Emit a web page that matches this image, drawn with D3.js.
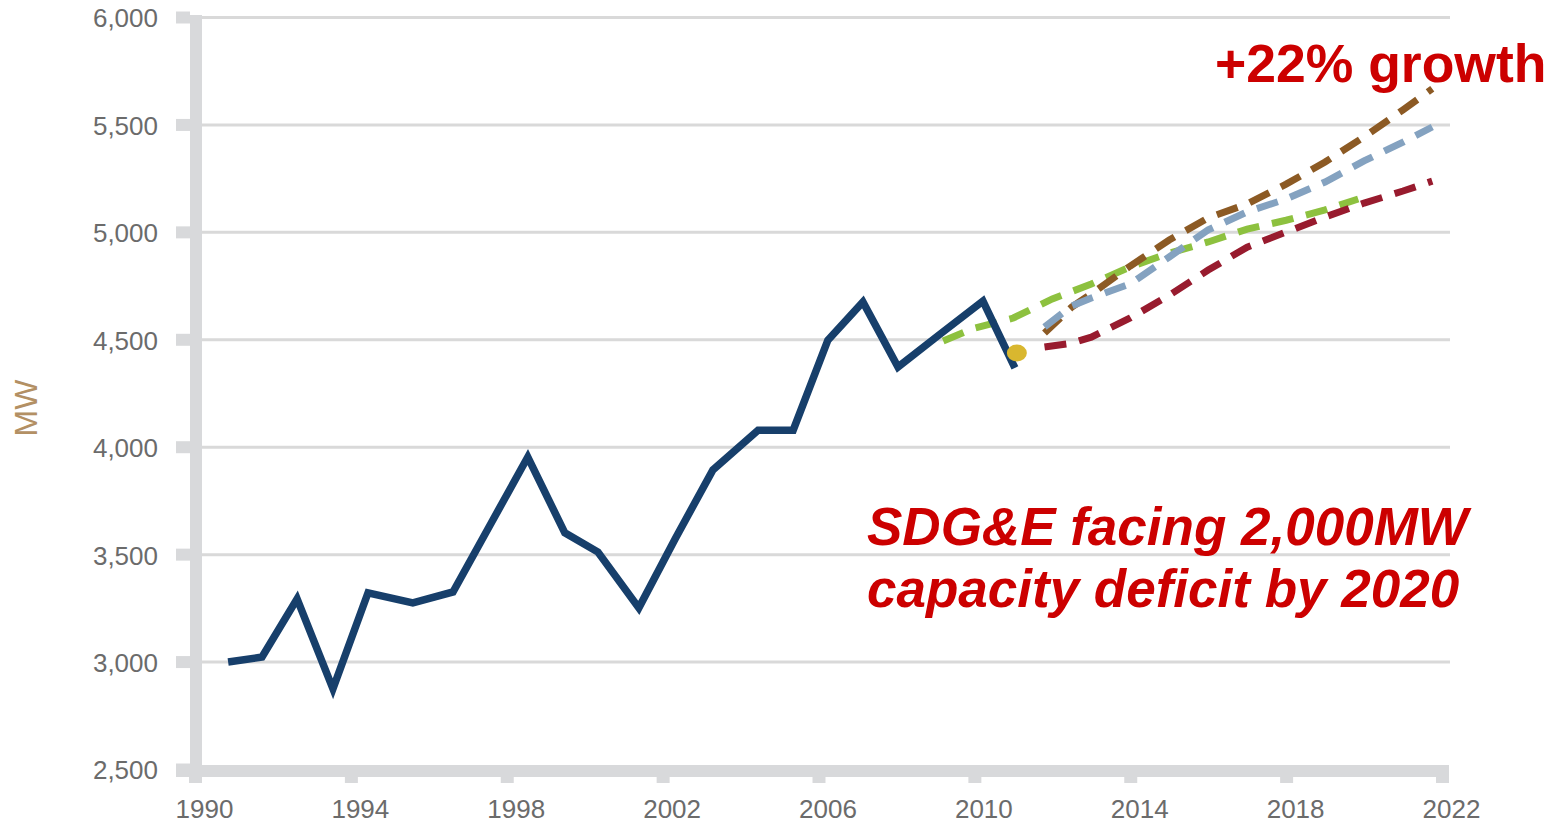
<!DOCTYPE html>
<html>
<head>
<meta charset="utf-8">
<script src="https://cdn.jsdelivr.net/npm/d3@7"></script>
<style>
  html, body { margin: 0; padding: 0; background: #ffffff; }
  svg { display: block; }
</style>
</head>
<body>
<svg id="chart" width="1555" height="823"></svg>
<script>
// ---------- data ----------
const histYears = [1990.85, 1991.72, 1992.62, 1993.54, 1994.44, 1995.59, 1996.62, 1997.58, 1998.54, 1999.49, 2000.34, 2001.39, 2002.32, 2003.29, 2004.45, 2005.35, 2006.24, 2007.14, 2008.04, 2009.12, 2010.22, 2011.04];
const histMW    = [2998, 3021, 3292, 2873, 3320, 3273, 3324, 3638, 3952, 3599, 3510, 3250, 3571, 3892, 4077, 4077, 4496, 4674, 4371, 4524, 4678, 4367];

const greenYears = [2009.2, 2010, 2011, 2012, 2013, 2014, 2015, 2016, 2017, 2018, 2019, 2019.85];
const greenMW    = [4492, 4552, 4599, 4688, 4757, 4837, 4901, 4953, 5013, 5054, 5102, 5153];

const fcYears = [2011.8, 2012.5, 2013, 2014, 2015, 2016, 2017, 2018, 2019, 2020, 2021, 2021.75];
const brownMW = [4529, 4650, 4711, 4841, 4962, 5065, 5130, 5222, 5325, 5442, 5568, 5666];
const blueMW  = [4557, 4655, 4692, 4758, 4883, 5009, 5093, 5153, 5232, 5330, 5418, 5488];
const redMW   = [4464, 4482, 4510, 4599, 4705, 4822, 4929, 4999, 5069, 5134, 5190, 5236];

const dotYear = 2011.09;
const dotMW = 4436;

const yTicks = [2500, 3000, 3500, 4000, 4500, 5000, 5500, 6000];
const xTicks = [1990, 1994, 1998, 2002, 2006, 2010, 2014, 2018, 2022];

const yTitle = "MW";
const note1 = "+22% growth";
const note2a = "SDG&E facing 2,000MW";
const note2b = "capacity deficit by 2020";

// ---------- drawing ----------
const svg = d3.select("#chart");
svg.append("rect").attr("width", 1555).attr("height", 823).attr("fill", "#ffffff");

const x = d3.scaleLinear().domain([1990, 2022]).range([195, 1442]);
const y = d3.scaleLinear().domain([2500, 6000]).range([769, 17]);

const FONT = "'Liberation Sans', Arial, Helvetica, sans-serif";
const AXIS_GRAY = "#d8d9db";

// gridlines
const grid = svg.append("g")
  .attr("transform", "translate(202,0)")
  .call(d3.axisRight(y).tickValues(yTicks.filter(v => v > 2500)).tickSize(1248).tickFormat(""));
grid.select(".domain").remove();
grid.selectAll("line").attr("stroke", "#d9d9d9").attr("stroke-width", 3);

// y axis
const yAxis = svg.append("g")
  .attr("transform", "translate(190,0)")
  .call(d3.axisLeft(y).tickValues(yTicks).tickSize(14).tickPadding(18).tickFormat(d3.format(",")));
yAxis.select(".domain").remove();
yAxis.selectAll("line").attr("stroke", AXIS_GRAY).attr("stroke-width", 12);
yAxis.selectAll("text")
  .attr("fill", "#6b6b6b")
  .style("font-family", FONT)
  .style("font-size", "26px")
  .attr("dy", "0.38em");

// x axis
const xAxis = svg.append("g")
  .attr("transform", "translate(0,777)")
  .call(d3.axisBottom(x).tickValues(xTicks).tickSize(6).tickFormat(d3.format("d")));
xAxis.select(".domain").remove();
xAxis.selectAll("line").attr("stroke", AXIS_GRAY).attr("stroke-width", 13);
xAxis.selectAll("text")
  .attr("fill", "#6b6b6b")
  .attr("x", 9)
  .attr("y", 41)
  .attr("dy", 0)
  .style("font-family", FONT)
  .style("font-size", "26px");

// thick axis bars
svg.append("line").attr("x1", 196).attr("x2", 196).attr("y1", y(6000) - 2).attr("y2", 783)
  .attr("stroke", AXIS_GRAY).attr("stroke-width", 12);
svg.append("line").attr("x1", 176).attr("x2", 1449).attr("y1", y(2500) + 2).attr("y2", y(2500) + 2)
  .attr("stroke", AXIS_GRAY).attr("stroke-width", 12);

// y title
svg.append("text")
  .attr("transform", "translate(37,408) rotate(-90)")
  .attr("text-anchor", "middle")
  .attr("fill", "#b39064")
  .style("font-family", FONT)
  .style("font-size", "32px")
  .text(yTitle);

const line = d3.line().x(d => x(d[0])).y(d => y(d[1]));

function dashed(years, vals, color) {
  svg.append("path")
    .datum(years.map((t, i) => [t, vals[i]]))
    .attr("d", line)
    .attr("fill", "none")
    .attr("stroke", color)
    .attr("stroke-width", 7)
    .attr("stroke-dasharray", "22,13");
}

dashed(greenYears, greenMW, "#8dc13f");
dashed(fcYears, brownMW, "#8c5a24");
dashed(fcYears, blueMW, "#84a2c0");
dashed(fcYears, redMW, "#981b2e");

// historical line
svg.append("path")
  .datum(histYears.map((t, i) => [t, histMW[i]]))
  .attr("d", line)
  .attr("fill", "none")
  .attr("stroke", "#173f6b")
  .attr("stroke-width", 7.5)
  .attr("stroke-linejoin", "miter");

// yellow dot
svg.append("ellipse")
  .attr("cx", x(dotYear)).attr("cy", y(dotMW))
  .attr("rx", 10).attr("ry", 8.5)
  .attr("fill", "#d9b72f");

// annotations
svg.append("text")
  .attr("x", 1215).attr("y", 82)
  .attr("fill", "#cc0000")
  .style("font-family", FONT)
  .style("font-weight", "bold")
  .style("font-size", "53.5px")
  .text(note1);

svg.append("text")
  .attr("x", 867).attr("y", 545)
  .attr("fill", "#cc0000")
  .style("font-family", FONT)
  .style("font-weight", "bold")
  .style("font-style", "italic")
  .style("font-size", "53px")
  .text(note2a);

svg.append("text")
  .attr("x", 867).attr("y", 607)
  .attr("fill", "#cc0000")
  .style("font-family", FONT)
  .style("font-weight", "bold")
  .style("font-style", "italic")
  .style("font-size", "53px")
  .text(note2b);
</script>
</body>
</html>
